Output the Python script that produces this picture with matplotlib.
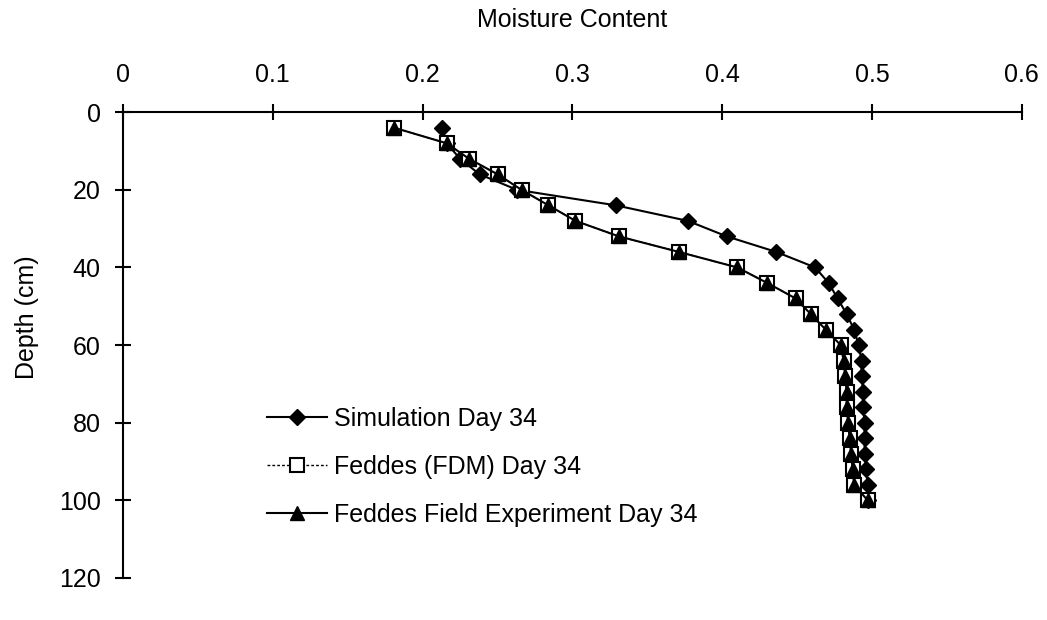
import matplotlib
matplotlib.use("Agg")
import matplotlib.pyplot as plt

plt.rcParams["font.family"] = ["Liberation Sans", "DejaVu Sans"]

depth = [4, 8, 12, 16, 20, 24, 28, 32, 36, 40, 44, 48, 52,
         56, 60, 64, 68, 72, 76, 80, 84, 88, 92, 96, 100]

sim_day34 = [0.213, 0.216, 0.225, 0.238, 0.263, 0.329, 0.377, 0.403, 0.436,
             0.462, 0.471, 0.477, 0.483, 0.488, 0.491, 0.493, 0.493, 0.494,
             0.494, 0.495, 0.495, 0.495, 0.496, 0.497, 0.497]

fdm_day34 = [0.181, 0.216, 0.231, 0.250, 0.266, 0.284, 0.302, 0.331, 0.371,
             0.410, 0.430, 0.449, 0.459, 0.469, 0.479, 0.481, 0.482, 0.483,
             0.483, 0.484, 0.485, 0.486, 0.487, 0.488, 0.497]

field_day34 = [0.181, 0.216, 0.231, 0.250, 0.266, 0.284, 0.302, 0.331, 0.371,
               0.410, 0.430, 0.449, 0.459, 0.469, 0.479, 0.481, 0.482, 0.483,
               0.483, 0.484, 0.485, 0.486, 0.487, 0.488, 0.497]

x_ticks = [0, 0.1, 0.2, 0.3, 0.4, 0.5, 0.6]
x_labels = ["0", "0.1", "0.2", "0.3", "0.4", "0.5", "0.6"]
y_ticks = [0, 20, 40, 60, 80, 100, 120]

fig = plt.figure(figsize=(10.47, 6.2), dpi=100)
ax = fig.add_axes([0.1175, 0.068, 0.8585, 0.751])

ax.plot(sim_day34, depth, color="black", lw=1.5, marker="D", markersize=8,
        markerfacecolor="black", markeredgecolor="black",
        label="Simulation Day 34")
ax.plot(fdm_day34, depth, color="black", lw=1.0, ls=(0, (2, 1.5)), marker="s",
        markersize=10, markerfacecolor="white", markeredgecolor="black",
        markeredgewidth=1.5, label="Feddes (FDM) Day 34")
ax.plot(field_day34, depth, color="black", lw=1.5, marker="^", markersize=10,
        markerfacecolor="black", markeredgecolor="black",
        label="Feddes Field Experiment Day 34")

ax.set_xlim(0, 0.6)
ax.set_ylim(120, 0)
ax.xaxis.tick_top()
ax.xaxis.set_label_position("top")
ax.set_xticks(x_ticks)
ax.set_xticklabels(x_labels)
ax.set_yticks(y_ticks)

for side in ["right", "bottom"]:
    ax.spines[side].set_visible(False)
for side in ["left", "top"]:
    ax.spines[side].set_linewidth(1.5)

ax.tick_params(axis="both", direction="inout", length=12, width=1.5,
               labelsize=18, colors="black")
ax.tick_params(axis="x", pad=12)
ax.tick_params(axis="y", pad=10)

ax.set_xlabel("Moisture Content", fontsize=18, labelpad=26)
ax.set_ylabel("Depth (cm)", fontsize=18)
ax.yaxis.set_label_coords(-0.093, 0.56)

leg = ax.legend(loc="upper left", bbox_to_anchor=(0.135, 0.415), frameon=False,
                fontsize=18, handlelength=2.4, labelspacing=0.95,
                handletextpad=0.3)

fig.savefig("out.png", dpi=100, facecolor="white")
